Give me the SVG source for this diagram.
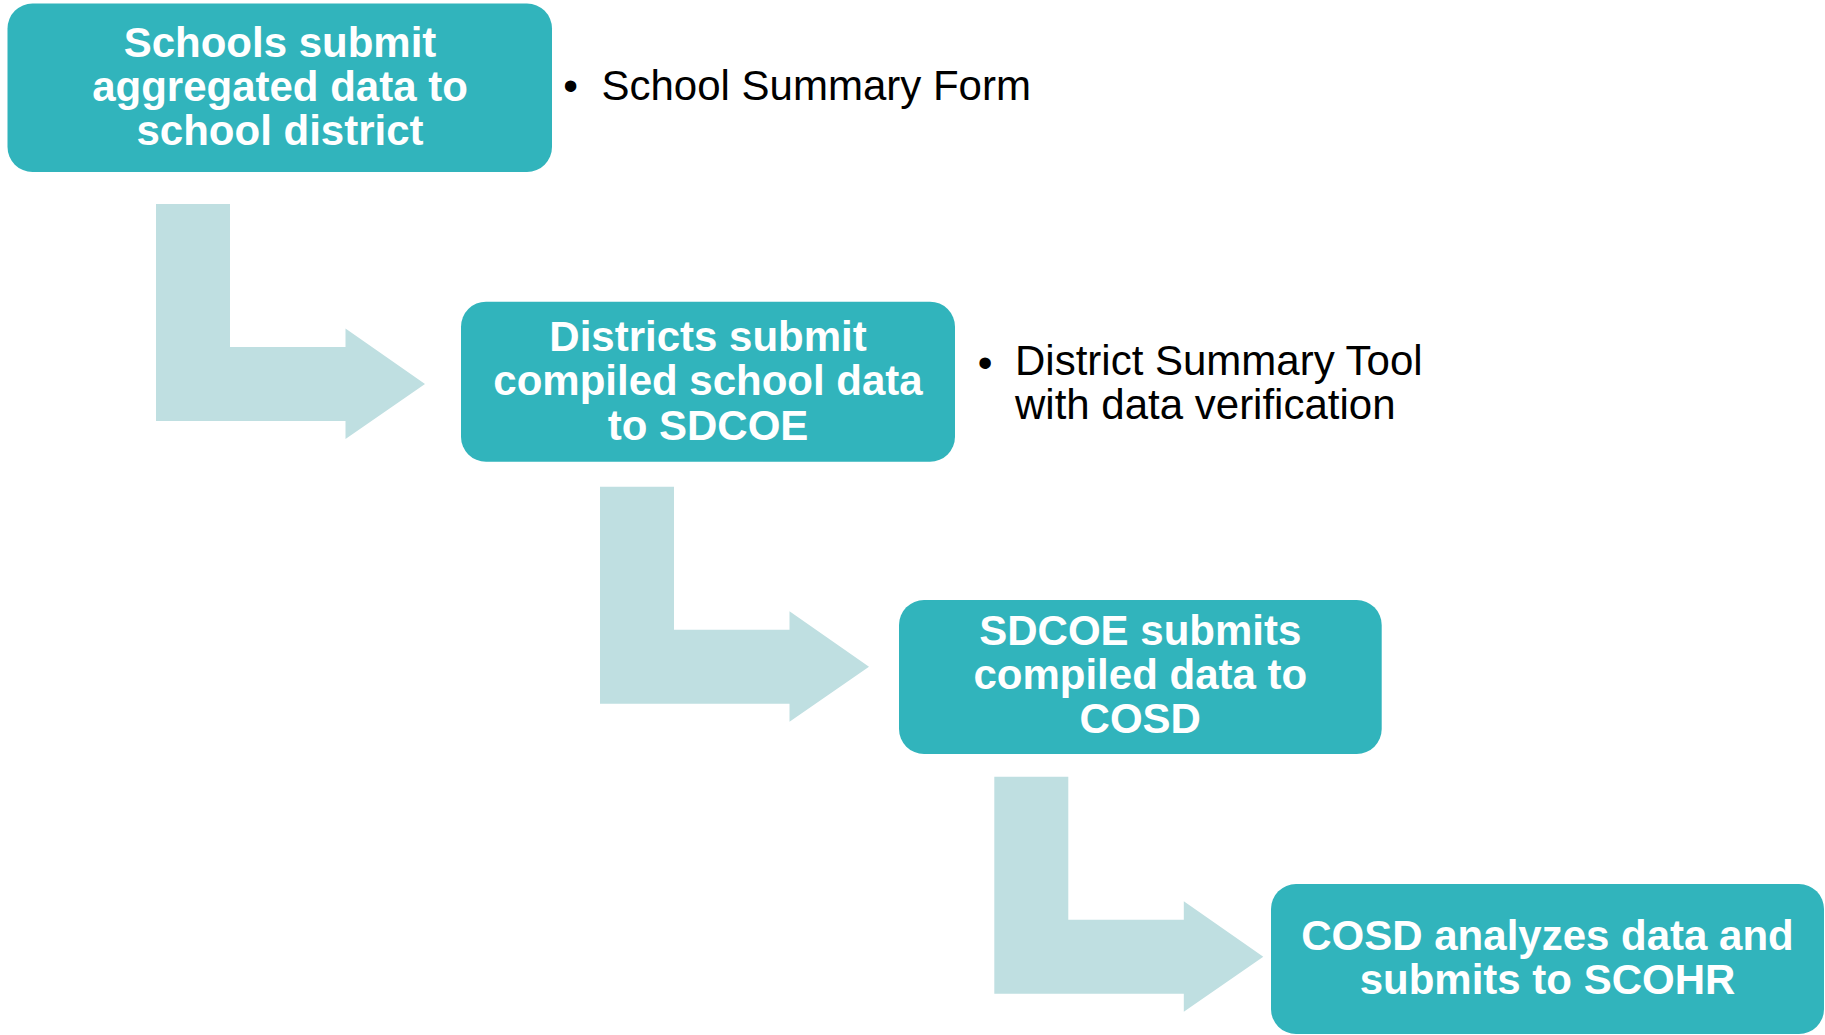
<svg xmlns="http://www.w3.org/2000/svg" width="1825" height="1035" viewBox="0 0 1825 1035">
<style>
.box{fill:#31B4BC}
.arrow{fill:#BFDFE1}
.lbl{font-family:"Liberation Sans",Arial,sans-serif;font-size:42px;font-weight:bold;fill:#FFFFFF;text-anchor:middle}
.note{font-family:"Liberation Sans",Arial,sans-serif;font-size:42px;fill:#000000}
.bul{font-family:"Liberation Sans",Arial,sans-serif;font-size:42px;fill:#000000;text-anchor:middle}
</style>
<rect width="1825" height="1035" fill="#FFFFFF"/>
<g id="connectors">
<path class="arrow" d="M156,204 h74 v143 h115.5 v-18.5 L425,384 L345.5,439 v-18 H156 Z"/>
<path class="arrow" d="M600,486.7 h74 v143 h115.5 v-18.5 L869,666.7 L789.5,721.7 v-18 H600 Z"/>
<path class="arrow" d="M994.3,776.7 h74 v143 h115.5 v-18.5 L1263.3,956.7 L1183.8,1011.7 v-18 H994.3 Z"/>
</g>
<g id="node1">
<rect class="box" x="7.5" y="3.5" width="544.5" height="168.5" rx="25" ry="25"/>
<text class="lbl" x="280" y="57">Schools submit</text>
<text class="lbl" x="280" y="101">aggregated data to</text>
<text class="lbl" x="280" y="145">school district</text>
</g>
<g id="note1">
<text class="bul" x="570.7" y="100">•</text>
<text class="note" x="601.5" y="100">School Summary Form</text>
</g>
<g id="node2">
<rect class="box" x="461" y="301.7" width="494" height="160" rx="25" ry="25"/>
<text class="lbl" x="708" y="350.5">Districts submit</text>
<text class="lbl" x="708" y="395">compiled school data</text>
<text class="lbl" x="708" y="439.5">to SDCOE</text>
</g>
<g id="note2">
<text class="bul" x="985" y="376.5">•</text>
<text class="note" x="1015" y="375">District Summary Tool</text>
<text class="note" x="1015" y="418.5">with data verification</text>
</g>
<g id="node3">
<rect class="box" x="899" y="600" width="482.7" height="154" rx="25" ry="25"/>
<text class="lbl" x="1140.3" y="645">SDCOE submits</text>
<text class="lbl" x="1140.3" y="688.5">compiled data to</text>
<text class="lbl" x="1140.3" y="732.7">COSD</text>
</g>
<g id="node4">
<rect class="box" x="1271" y="884" width="553" height="150" rx="25" ry="25"/>
<text class="lbl" x="1547.5" y="950">COSD analyzes data and</text>
<text class="lbl" x="1547.5" y="994">submits to SCOHR</text>
</g>
</svg>
